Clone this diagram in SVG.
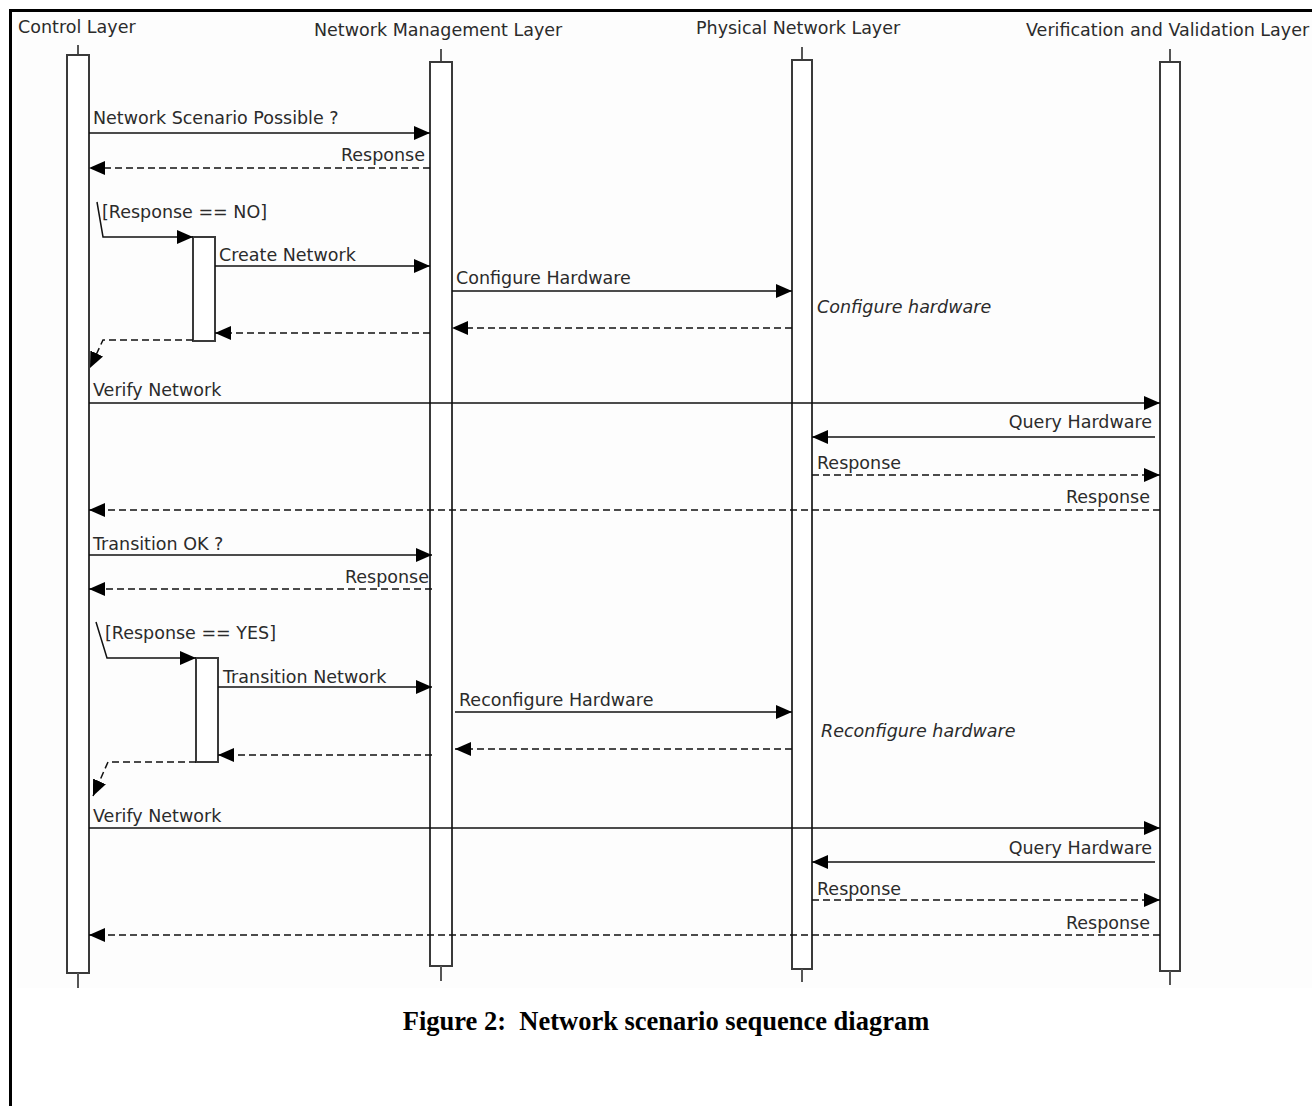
<svg xmlns="http://www.w3.org/2000/svg" width="1312" height="1106" viewBox="0 0 1312 1106">
<style>
.lbl{font-family:"DejaVu Sans","Liberation Sans",sans-serif;font-size:17.5px;fill:#2b2b2b}
.it{font-style:italic}
.end{text-anchor:end}
.msg{stroke:#111;stroke-width:1.5;fill:none}
.ret{stroke-dasharray:7 4}
.box{fill:#fff;stroke:#3a3a3a;stroke-width:2}
.tick{stroke:#555;stroke-width:2}
.cap{font-family:"Liberation Serif","Times New Roman",serif;font-weight:bold;font-size:26.5px;fill:#000;text-anchor:middle}
</style>
<defs>
<marker id="ah" markerUnits="userSpaceOnUse" markerWidth="17" markerHeight="15" refX="16" refY="7" orient="auto">
<path d="M0,0 L16,7 L0,14 z" fill="#000"/>
</marker>
</defs>
<rect x="0" y="0" width="1312" height="1106" fill="#fff"/>
<rect x="17" y="12" width="1295" height="976" fill="#fdfdfd"/>
<rect x="10.5" y="10.5" width="1330" height="1130" fill="none" stroke="#000" stroke-width="3"/>

<g id="control-layer">
<text class="lbl" x="18" y="33">Control Layer</text>
<line class="tick" x1="78" y1="45" x2="78" y2="55"/>
<rect class="box" x="67" y="55" width="22" height="918"/>
<line class="tick" x1="78" y1="973" x2="78" y2="988"/>
</g>
<g id="network-management-layer">
<text class="lbl" x="314" y="36">Network Management Layer</text>
<line class="tick" x1="441" y1="49" x2="441" y2="62"/>
<rect class="box" x="430" y="62" width="22" height="904"/>
<line class="tick" x1="441" y1="966" x2="441" y2="981"/>
</g>
<g id="physical-network-layer">
<text class="lbl" x="696" y="34">Physical Network Layer</text>
<line class="tick" x1="802" y1="47" x2="802" y2="60"/>
<rect class="box" x="792" y="60" width="20" height="909"/>
<line class="tick" x1="802" y1="969" x2="802" y2="982"/>
</g>
<g id="verification-validation-layer">
<text class="lbl" x="1026" y="36">Verification and Validation Layer</text>
<line class="tick" x1="1170" y1="49" x2="1170" y2="62"/>
<rect class="box" x="1160" y="62" width="20" height="909"/>
<line class="tick" x1="1170" y1="971" x2="1170" y2="985"/>
</g>
<g id="activation-1"><rect class="box" x="193" y="237" width="22" height="104"/></g>
<g id="activation-2"><rect class="box" x="196" y="658" width="22" height="104"/></g>

<g id="connectors">
<line class="msg" x1="89" y1="133" x2="430" y2="133" marker-end="url(#ah)"/>
<text class="lbl" x="93" y="124">Network Scenario Possible ?</text>
<line class="msg ret" x1="430" y1="168" x2="89" y2="168" marker-end="url(#ah)"/>
<text class="lbl end" x="425" y="161">Response</text>

<polyline class="msg" points="97,202 103,237 193,237" marker-end="url(#ah)"/>
<text class="lbl" x="102" y="218">[Response == NO]</text>
<line class="msg" x1="215" y1="266" x2="430" y2="266" marker-end="url(#ah)"/>
<text class="lbl" x="219" y="261">Create Network</text>
<line class="msg" x1="452" y1="291" x2="792" y2="291" marker-end="url(#ah)"/>
<text class="lbl" x="456" y="284">Configure Hardware</text>
<text class="lbl it" x="817" y="313">Configure hardware</text>
<line class="msg ret" x1="792" y1="328" x2="452" y2="328" marker-end="url(#ah)"/>
<line class="msg ret" x1="430" y1="333" x2="215" y2="333" marker-end="url(#ah)"/>
<polyline class="msg ret" points="193,340 103,340 90,368" marker-end="url(#ah)"/>

<line class="msg" x1="89" y1="403" x2="1160" y2="403" marker-end="url(#ah)"/>
<text class="lbl" x="93" y="396">Verify Network</text>
<line class="msg" x1="1155" y1="437" x2="812" y2="437" marker-end="url(#ah)"/>
<text class="lbl end" x="1152" y="428">Query Hardware</text>
<line class="msg ret" x1="812" y1="475" x2="1160" y2="475" marker-end="url(#ah)"/>
<text class="lbl" x="817" y="469">Response</text>
<line class="msg ret" x1="1160" y1="510" x2="89" y2="510" marker-end="url(#ah)"/>
<text class="lbl end" x="1150" y="503">Response</text>

<line class="msg" x1="89" y1="555" x2="432" y2="555" marker-end="url(#ah)"/>
<text class="lbl" x="93" y="550">Transition OK ?</text>
<line class="msg ret" x1="432" y1="589" x2="89" y2="589" marker-end="url(#ah)"/>
<text class="lbl end" x="429" y="583">Response</text>

<polyline class="msg" points="96,622 107,658 196,658" marker-end="url(#ah)"/>
<text class="lbl" x="105" y="639">[Response == YES]</text>
<line class="msg" x1="218" y1="687" x2="432" y2="687" marker-end="url(#ah)"/>
<text class="lbl" x="223" y="683">Transition Network</text>
<line class="msg" x1="455" y1="712" x2="792" y2="712" marker-end="url(#ah)"/>
<text class="lbl" x="459" y="706">Reconfigure Hardware</text>
<text class="lbl it" x="821" y="737">Reconfigure hardware</text>
<line class="msg ret" x1="792" y1="749" x2="455" y2="749" marker-end="url(#ah)"/>
<line class="msg ret" x1="432" y1="755" x2="218" y2="755" marker-end="url(#ah)"/>
<polyline class="msg ret" points="196,762 108,762 93,796" marker-end="url(#ah)"/>

<line class="msg" x1="89" y1="828" x2="1160" y2="828" marker-end="url(#ah)"/>
<text class="lbl" x="93" y="822">Verify Network</text>
<line class="msg" x1="1155" y1="862" x2="812" y2="862" marker-end="url(#ah)"/>
<text class="lbl end" x="1152" y="854">Query Hardware</text>
<line class="msg ret" x1="812" y1="900" x2="1160" y2="900" marker-end="url(#ah)"/>
<text class="lbl" x="817" y="895">Response</text>
<line class="msg ret" x1="1160" y1="935" x2="89" y2="935" marker-end="url(#ah)"/>
<text class="lbl end" x="1150" y="929">Response</text>
</g>

<text class="cap" x="666" y="1030" xml:space="preserve">Figure 2:  Network scenario sequence diagram</text>
</svg>
